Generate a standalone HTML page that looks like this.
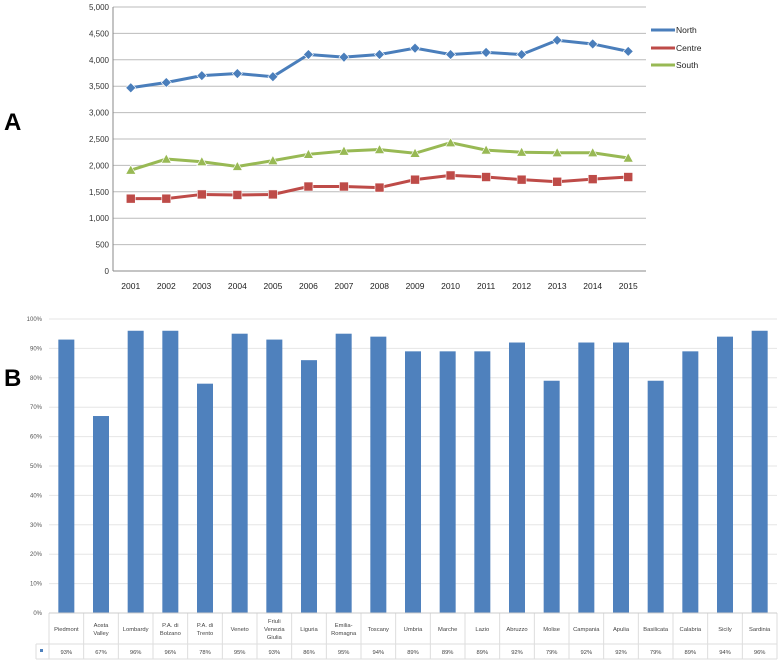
<!DOCTYPE html>
<html><head><meta charset="utf-8"><style>
body{margin:0;background:#fff;font-family:"Liberation Sans",sans-serif}
svg text{font-family:"Liberation Sans",sans-serif}
</style></head><body>
<svg width="778" height="660" xmlns="http://www.w3.org/2000/svg">
<text x="4" y="130" font-size="24" font-weight="bold">A</text>
<text x="4" y="386" font-size="24" font-weight="bold">B</text>
<g id="ca"></g>
<g id="cb"></g>
</svg>
<script>
const years=["2001","2002","2003","2004","2005","2006","2007","2008","2009","2010","2011","2012","2013","2014","2015"];
const north=[3470,3570,3700,3740,3680,4100,4050,4100,4220,4100,4140,4100,4370,4300,4160];
const centre=[1370,1370,1450,1440,1450,1600,1600,1580,1730,1810,1780,1730,1690,1740,1780];
const south=[1910,2120,2070,1980,2090,2210,2270,2300,2230,2430,2290,2250,2240,2240,2140];
const yTicksA=[0,500,1000,1500,2000,2500,3000,3500,4000,4500,5000];
const regions=["Piedmont","Aosta|Valley","Lombardy","P.A. di|Bolzano","P.A. di|Trento","Veneto","Friuli|Venezia|Giulia","Liguria","Emilia-|Romagna","Toscany","Umbria","Marche","Lazio","Abruzzo","Molise","Campania","Apulia","Basilicata","Calabria","Sicily","Sardinia"];
const pct=[93,67,96,96,78,95,93,86,95,94,89,89,89,92,79,92,92,79,89,94,96];
const yTicksB=[0,10,20,30,40,50,60,70,80,90,100];
const NS="http://www.w3.org/2000/svg";
function mk(p,t,a){const e=document.createElementNS(NS,t);for(const k in a)e.setAttribute(k,a[k]);p.appendChild(e);return e;}
// Chart A
const A=document.getElementById('ca');
const ax0=113,ax1=646,ay0=271,ay1=7;
const xA=i=>ax0+(ax1-ax0)/years.length*(i+0.5);
const yA=v=>ay0-(ay0-ay1)*v/5000;
yTicksA.forEach(t=>{
 const l=mk(A,'line',{x1:ax0,x2:ax1,y1:yA(t),y2:yA(t),stroke:t?'#bbb':'#888','stroke-width':1});
 
 
 const tx=mk(A,'text',{x:ax0-4,y:yA(t)+3,'font-size':8,'text-anchor':'end',fill:'#333'});tx.textContent=t.toLocaleString('en-US');
 
 
});
mk(A,'line',{x1:ax0,x2:ax0,y1:ay1,y2:ay0,stroke:'#888'});
years.forEach((y,i)=>{
 const tx=mk(A,'text',{x:xA(i),y:289,'font-size':8.5,'text-anchor':'middle',fill:'#222'});tx.textContent=y;
 
 
});
function series(data,col,shape,name,ly){
 const g=mk(A,'g',{});
 
 
 mk(g,'polyline',{points:data.map((v,i)=>xA(i)+','+yA(v)).join(' '),fill:'none',stroke:col,'stroke-width':3});
 const mark=(x,y)=>{
  if(shape==='d')mk(g,'polygon',{points:`${x},${y-5} ${x+5},${y} ${x},${y+5} ${x-5},${y}`,fill:col,stroke:'#fff','stroke-width':.6});
  else if(shape==='s')mk(g,'rect',{x:x-4.5,y:y-4.5,width:9,height:9,fill:col,stroke:'#fff','stroke-width':.6});
  else mk(g,'polygon',{points:`${x},${y-5} ${x+5},${y+4} ${x-5},${y+4}`,fill:col,stroke:'#fff','stroke-width':.6});
 };
 data.forEach((v,i)=>mark(xA(i),yA(v)));
 const lg=mk(A,'g',{});
 
 
 mk(lg,'line',{x1:651,x2:675,y1:ly,y2:ly,stroke:col,'stroke-width':3});
 const t=mk(lg,'text',{x:676,y:ly+3,'font-size':8.5,fill:'#222'});t.textContent=name.charAt(0).toUpperCase()+name.slice(1);
}
series(north,'#4a7ebb','d','north',30);
series(centre,'#be4b48','s','centre',48);
series(south,'#98b954','t','south',65);
// Chart B
const B=document.getElementById('cb');
const bx0=49,bx1=777,by0=613,by1=319;
const cw=(bx1-bx0)/regions.length;
const xB=i=>bx0+cw*(i+0.5);
const yB=v=>by0-(by0-by1)*v/100;
yTicksB.forEach(t=>{
 const l=mk(B,'line',{x1:bx0,x2:bx1,y1:yB(t),y2:yB(t),stroke:'#e6e6e6'});
 
 
 const tx=mk(B,'text',{x:bx0-7,y:yB(t)+2,'font-size':6,'text-anchor':'end',fill:'#555'});tx.textContent=t+'%';
 
 
});
mk(B,'line',{x1:36,x2:bx1,y1:644,y2:644,stroke:'#ddd'});
mk(B,'line',{x1:36,x2:bx1,y1:659,y2:659,stroke:'#ddd'});
mk(B,'line',{x1:36,x2:36,y1:644,y2:659,stroke:'#ddd'});
const sq=mk(B,'rect',{x:40,y:649,width:3,height:3,fill:'#4f81bd'});


regions.forEach((r,i)=>{
 mk(B,'line',{x1:bx0+cw*i,x2:bx0+cw*i,y1:by0,y2:659,stroke:'#ddd'});
 const b=mk(B,'rect',{x:xB(i)-8,y:yB(pct[i]),width:16,height:by0-yB(pct[i]),fill:'#4f81bd'});
 
 
 const parts=r.split('|');const cy=629-(parts.length-1)*4;
 parts.forEach((p,j)=>{const t=mk(B,'text',{x:xB(i),y:cy+j*8+2,'font-size':5.8,'text-anchor':'middle',fill:'#444'});t.textContent=p;
  
  });
 const v=mk(B,'text',{x:xB(i),y:654,'font-size':5.8,'text-anchor':'middle',fill:'#444'});v.textContent=pct[i]+'%';
 
 
});
mk(B,'line',{x1:bx1,x2:bx1,y1:by0,y2:659,stroke:'#ddd'});
mk(B,'line',{x1:bx0,x2:bx1,y1:by0,y2:by0,stroke:'#ccc'});
</script>
</body></html>
